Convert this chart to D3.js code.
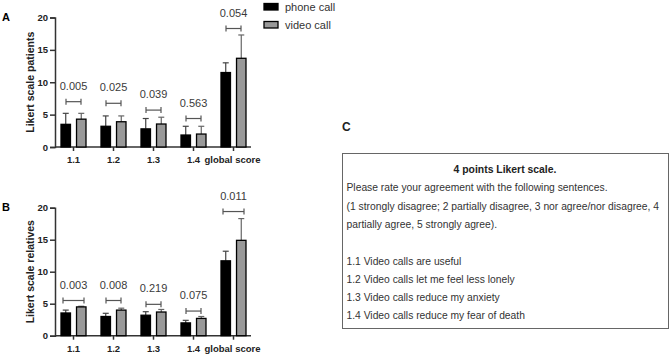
<!DOCTYPE html>
<html>
<head>
  <script src="https://d3js.org/d3.v7.min.js"></script>
  <style>
    body { margin: 0; background: #fff; }
    text { font-family: "Liberation Sans", Arial, sans-serif; }
  </style>
</head>
<body>
<svg id="chart" width="670" height="355"></svg>
<script>
// categories and series
var categories = ["1.1", "1.2", "1.3", "1.4", "global score"];
var seriesNames = ["phone call", "video call"];
var yTicks = [0, 5, 10, 15, 20];

// panel A: patients (mean and SD)
var patientsPhone = [3.5, 3.2, 2.8, 1.85, 11.5];
var patientsPhoneSd = [1.7, 1.6, 1.6, 1.35, 1.5];
var patientsVideo = [4.3, 3.9, 3.55, 2.0, 13.7];
var patientsVideoSd = [0.9, 0.9, 1.05, 1.2, 3.6];
var patientsP = ["0.005", "0.025", "0.039", "0.563", "0.054"];
var patientsBracket = [7.0, 6.75, 5.7, 4.4, 18.3];

// panel B: relatives
var relativesPhone = [3.55, 3.0, 3.2, 2.0, 11.7];
var relativesPhoneSd = [0.45, 0.5, 0.55, 0.4, 1.5];
var relativesVideo = [4.5, 4.0, 3.7, 2.7, 14.9];
var relativesVideoSd = [0.1, 0.3, 0.4, 0.3, 3.4];
var relativesP = ["0.003", "0.008", "0.219", "0.075", "0.011"];
var relativesBracket = [5.5, 5.5, 4.9, 3.85, 19.4];
var relativesWide = [true, false, false, false, true];

// panel C text
var boxTitle = "4 points Likert scale.";
var boxLines = [
  "Please rate your agreement with the following sentences.",
  "(1 strongly disagree; 2 partially disagree, 3 nor agree/nor disagree, 4",
  "partially agree, 5 strongly agree).",
  "",
  "1.1 Video calls are useful",
  "1.2 Video calls let me feel less lonely",
  "1.3 Video calls reduce my anxiety",
  "1.4 Video calls reduce my fear of death"
];

var svg = d3.select("#chart");
var colors = ["#000", "#999"];

var x = d3.scaleBand().domain(categories).range([53, 253]);
var x1 = d3.scaleBand().domain(seriesNames).range([8, 33]).paddingInner(0.39);
var groupMid = (8 + 33) / 2;

function drawPanel(letter, yLabel, top, bottom, phone, phoneSd, video, videoSd, pvals, brackets, wide) {
  var y = d3.scaleLinear().domain([0, 20]).range([bottom, top]);
  var g = svg.append("g");

  g.append("text").attr("x", 2).attr("y", top + 3)
    .attr("font-size", 11).attr("font-weight", "bold").text(letter);

  // y axis
  var yAxis = g.append("g").attr("transform", "translate(55,0)")
    .call(d3.axisLeft(y).tickValues(yTicks).tickSize(5).tickPadding(2));
  yAxis.select(".domain").attr("stroke", "#333").attr("stroke-width", 1.5);
  yAxis.selectAll(".tick line").attr("stroke", "#333").attr("stroke-width", 1.5);
  yAxis.selectAll(".tick text").attr("font-size", 9.5).attr("font-weight", "bold")
    .attr("fill", "#222").style("font-family", "Liberation Sans, Arial");

  g.append("text")
    .attr("transform", "translate(34," + ((top + bottom) / 2) + ") rotate(-90)")
    .attr("text-anchor", "middle").attr("font-size", 10.5).attr("font-weight", "bold")
    .attr("fill", "#222").text(yLabel);

  // x axis
  g.append("line").attr("x1", 55).attr("x2", 251).attr("y1", bottom).attr("y2", bottom)
    .attr("stroke", "#333").attr("stroke-width", 1.5);
  g.selectAll(".xt").data(categories).enter().append("line")
    .attr("x1", function(d) { return x(d) + groupMid; })
    .attr("x2", function(d) { return x(d) + groupMid; })
    .attr("y1", bottom).attr("y2", bottom + 4)
    .attr("stroke", "#333").attr("stroke-width", 1.5);
  g.selectAll(".xl").data(categories).enter().append("text")
    .attr("x", function(d, i) { return x(d) + groupMid + (i === 4 ? -1 : 0); })
    .attr("y", bottom + 16)
    .attr("text-anchor", "middle").attr("font-size", 9.5).attr("font-weight", "bold")
    .attr("fill", "#222").text(function(d) { return d; });

  var rows = categories.map(function(c, i) {
    return [
      { c: c, s: seriesNames[0], v: phone[i], sd: phoneSd[i], k: 0 },
      { c: c, s: seriesNames[1], v: video[i], sd: videoSd[i], k: 1 }
    ];
  });
  var flat = [].concat.apply([], rows);

  // error bars (drawn first so bars sit on top)
  var err = g.selectAll(".err").data(flat).enter().append("g")
    .attr("stroke", function(d) { return d.k === 0 ? "#444" : "#666"; })
    .attr("stroke-width", 1.2);
  err.append("line")
    .attr("x1", function(d) { return x(d.c) + x1(d.s) + x1.bandwidth() / 2; })
    .attr("x2", function(d) { return x(d.c) + x1(d.s) + x1.bandwidth() / 2; })
    .attr("y1", function(d) { return y(d.v); })
    .attr("y2", function(d) { return y(d.v + d.sd); });
  err.append("line")
    .attr("x1", function(d) { return x(d.c) + x1(d.s) + x1.bandwidth() / 2 - 3; })
    .attr("x2", function(d) { return x(d.c) + x1(d.s) + x1.bandwidth() / 2 + 3; })
    .attr("y1", function(d) { return y(d.v + d.sd); })
    .attr("y2", function(d) { return y(d.v + d.sd); });

  g.selectAll(".bar").data(flat).enter().append("rect")
    .attr("x", function(d) { return x(d.c) + x1(d.s); })
    .attr("y", function(d) { return y(d.v); })
    .attr("width", x1.bandwidth())
    .attr("height", function(d) { return y(0) - y(d.v); })
    .attr("fill", function(d) { return colors[d.k]; })
    .attr("stroke", "#000").attr("stroke-width", 1.3);

  // significance brackets
  var br = g.selectAll(".br").data(categories).enter().append("g")
    .attr("stroke", "#555").attr("stroke-width", 1.2);
  function bx(d, i, side) {
    var mid = x(d) + groupMid;
    var half = wide && wide[i] ? 10.5 : 7.5;
    return mid + side * half;
  }
  br.append("line")
    .attr("x1", function(d, i) { return bx(d, i, -1); })
    .attr("x2", function(d, i) { return bx(d, i, 1); })
    .attr("y1", function(d, i) { return y(brackets[i]); })
    .attr("y2", function(d, i) { return y(brackets[i]); });
  [-1, 1].forEach(function(side) {
    br.append("line")
      .attr("x1", function(d, i) { return bx(d, i, side); })
      .attr("x2", function(d, i) { return bx(d, i, side); })
      .attr("y1", function(d, i) { return y(brackets[i]) - 3; })
      .attr("y2", function(d, i) { return y(brackets[i]) + 3; });
  });
  g.selectAll(".pv").data(categories).enter().append("text")
    .attr("x", function(d) { return x(d) + groupMid; })
    .attr("y", function(d, i) { return y(brackets[i]) - 12; })
    .attr("text-anchor", "middle").attr("font-size", 11).attr("fill", "#3a3a3a")
    .text(function(d, i) { return pvals[i]; });
}

drawPanel("A", "Likert scale patients", 17.5, 147,
  patientsPhone, patientsPhoneSd, patientsVideo, patientsVideoSd, patientsP, patientsBracket, null);
drawPanel("B", "Likert scale relatives", 207.7, 335.7,
  relativesPhone, relativesPhoneSd, relativesVideo, relativesVideoSd, relativesP, relativesBracket, relativesWide);

// legend
var lg = svg.selectAll(".lg").data(seriesNames).enter().append("g")
  .attr("transform", function(d, i) { return "translate(264," + (3.5 + i * 18) + ")"; });
lg.append("rect").attr("width", 14).attr("height", 6.5)
  .attr("fill", function(d, i) { return colors[i]; })
  .attr("stroke", "#000").attr("stroke-width", 1.3);
lg.append("text").attr("x", 21).attr("y", 7.5).attr("font-size", 11).attr("fill", "#333")
  .text(function(d) { return d; });

// panel C
svg.append("text").attr("x", 342).attr("y", 131).attr("font-size", 12)
  .attr("font-weight", "bold").attr("fill", "#222").text("C");
svg.append("rect").attr("x", 342.5).attr("y", 153.5).attr("width", 326).attr("height", 175)
  .attr("fill", "none").attr("stroke", "#666").attr("stroke-width", 1);
svg.append("text").attr("x", 505).attr("y", 172.5).attr("text-anchor", "middle")
  .attr("font-size", 10.4).attr("font-weight", "bold").attr("fill", "#222").text(boxTitle);
svg.selectAll(".bl").data(boxLines).enter().append("text")
  .attr("x", 346.5)
  .attr("y", function(d, i) { return 191.3 + i * 18.3; })
  .attr("font-size", 10.3).attr("fill", "#333")
  .text(function(d) { return d; });
</script>
</body>
</html>
